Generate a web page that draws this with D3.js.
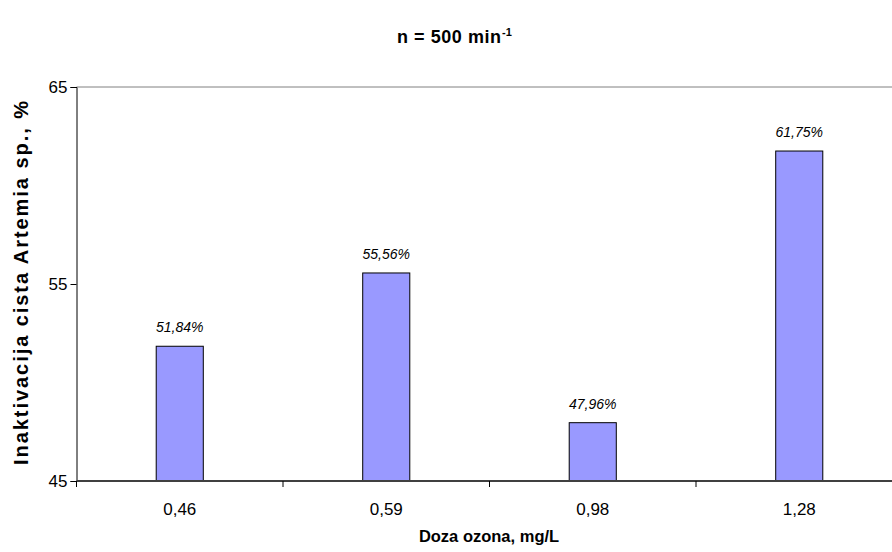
<!DOCTYPE html>
<html>
<head>
<meta charset="utf-8">
<script src="https://cdn.jsdelivr.net/npm/d3@7"></script>
<style>
  html, body { margin: 0; padding: 0; background: #fff; }
  svg { display: block; font-family: Arial, "Liberation Sans", sans-serif; }
</style>
</head>
<body>
<svg id="chart" width="892" height="552"></svg>
<script>
const categories = ["0,46", "0,59", "0,98", "1,28"];
const values = [51.84, 55.56, 47.96, 61.75];
const valueLabels = ["51,84%", "55,56%", "47,96%", "61,75%"];
const yTicks = [45, 55, 65];

(function () {
const svg = d3.select("#chart");
const pLeft = 76.5, pRight = 902.5, pTop = 87, pBottom = 481;

const x = d3.scaleBand().domain(categories).range([pLeft, pRight]).paddingInner(0.772).paddingOuter(0.386);
const y = d3.scaleLinear().domain([45, 65]).range([pBottom, pTop]);

// top gridline at 65
svg.append("line").attr("x1", pLeft).attr("x2", pRight).attr("y1", y(65)).attr("y2", y(65))
  .attr("stroke", "#808080").attr("stroke-width", 1);

// bars
svg.selectAll("rect.bar").data(values).enter().append("rect")
  .attr("class", "bar")
  .attr("x", (d, i) => x(categories[i]))
  .attr("y", d => y(d))
  .attr("width", x.bandwidth())
  .attr("height", d => y(45) - y(d))
  .attr("fill", "#9999ff").attr("stroke", "#000").attr("stroke-width", 1);

// value labels
svg.selectAll("text.vl").data(values).enter().append("text")
  .attr("class", "vl")
  .attr("x", (d, i) => x(categories[i]) + x.bandwidth() / 2)
  .attr("y", d => y(d) - 14)
  .attr("text-anchor", "middle").attr("font-size", 14).attr("font-style", "italic").attr("fill", "#000")
  .text((d, i) => valueLabels[i]);

// y axis
const yAxis = d3.axisLeft(y).tickValues(yTicks).tickSize(6).tickPadding(3).tickFormat(d3.format("d"));
const gy = svg.append("g").attr("transform", `translate(${pLeft},0)`).call(yAxis);
gy.select(".domain").attr("stroke", "#000");
gy.selectAll(".tick line").attr("stroke", "#000");
gy.selectAll(".tick text").attr("font-size", 17).attr("font-family", "Arial, 'Liberation Sans', sans-serif").attr("fill", "#000");

// x axis: ticks at band boundaries
const boundaries = d3.range(categories.length + 1).map(i => pLeft + i * (pRight - pLeft) / categories.length);
const gx = svg.append("g");
gx.append("line").attr("x1", pLeft).attr("x2", pRight).attr("y1", pBottom).attr("y2", pBottom)
  .attr("stroke", "#404040").attr("stroke-width", 2);
gx.selectAll("line.tk").data(boundaries).enter().append("line")
  .attr("class", "tk")
  .attr("x1", d => d).attr("x2", d => d).attr("y1", pBottom).attr("y2", pBottom + 6)
  .attr("stroke", "#000");
gx.selectAll("text").data(categories).enter().append("text")
  .attr("x", d => x(d) + x.bandwidth() / 2).attr("y", 515)
  .attr("text-anchor", "middle").attr("font-size", 17).attr("fill", "#000").text(d => d);

// title
svg.append("text").attr("x", 397).attr("y", 43)
  .attr("font-size", 18).attr("font-weight", "bold")
  .attr("textLength", 104).attr("lengthAdjust", "spacing")
  .text("n = 500 min");
svg.append("text").attr("x", 502).attr("y", 36)
  .attr("font-size", 11).attr("font-weight", "bold").text("-1");

// axis titles
svg.append("text").attr("x", 489).attr("y", 542).attr("text-anchor", "middle")
  .attr("font-size", 16.5).attr("font-weight", "bold").text("Doza ozona, mg/L");

svg.append("text").attr("transform", "translate(28,283) rotate(-90)").attr("text-anchor", "middle")
  .attr("font-size", 20).attr("font-weight", "bold")
  .attr("textLength", 364).attr("lengthAdjust", "spacing")
  .text("Inaktivacija cista Artemia sp., %");
})();
</script>
</body>
</html>
